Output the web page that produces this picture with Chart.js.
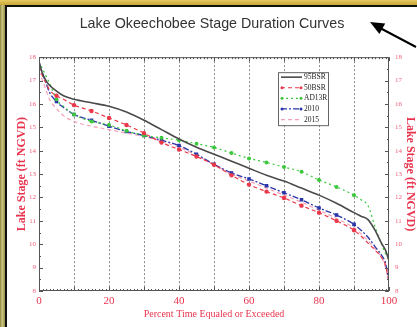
<!DOCTYPE html>
<html>
<head>
<meta charset="utf-8">
<script src="https://cdn.jsdelivr.net/npm/chart.js@4.4.1/dist/chart.umd.min.js"></script>
<style>
    html, body { margin: 0; padding: 0; width: 417px; height: 327px; overflow: hidden; background: #fff; }
    #frame-left { position: absolute; left: 0; top: 0; width: 5px; height: 327px; background: linear-gradient(90deg, #8a873a, #cfc784 45%, #938d42); }
    #frame-top { position: absolute; left: 0; top: 0; width: 417px; height: 5px; background: linear-gradient(180deg, #e6ca62, #c8a636); }
    #edge-left { position: absolute; left: 5px; top: 5px; width: 2px; height: 322px; background: #111; }
    #edge-top { position: absolute; left: 5px; top: 5px; width: 412px; height: 2px; background: #111; }
    #wrap { position: absolute; left: 7px; top: 7px; width: 410px; height: 320px; }
    #arrow { position: absolute; left: 0; top: 0; pointer-events: none; }
</style>
</head>
<body>
<div id="frame-left"></div>
<div id="frame-top"></div>
<div id="edge-left"></div>
<div id="edge-top"></div>
<div id="wrap"><canvas id="stageChart" width="410" height="320"></canvas></div>
<svg id="arrow" width="417" height="327">
    <line x1="416" y1="47" x2="381" y2="28.5" stroke="#000" stroke-width="2"/>
    <polygon points="370,22 385.2,23.4 379.4,34" fill="#000"/>
</svg>
<script>
// percent time equaled or exceeded
const percentTime = [0, 1, 2, 3, 5, 7, 10, 15, 20, 25, 30, 35, 40, 45, 50, 55, 60, 65, 70, 75, 80, 85, 90, 92, 94, 96, 98, 99, 100];

// lake stage (ft NGVD)
const bsr95 = [17.8, 17.3, 17.0, 16.8, 16.55, 16.35, 16.2, 16.05, 15.9, 15.65, 15.3, 14.9, 14.5, 14.15, 13.85, 13.55, 13.25, 12.95, 12.7, 12.4, 12.1, 11.75, 11.35, 11.2, 11.05, 10.6, 10.0, 9.75, 9.3];
const bsr50 = [17.6, 17.2, 16.9, 16.6, 16.35, 16.2, 15.95, 15.7, 15.4, 15.1, 14.75, 14.35, 14.05, 13.75, 13.4, 12.95, 12.55, 12.25, 11.98, 11.65, 11.35, 11.0, 10.6, 10.35, 10.05, 9.75, 9.4, 9.1, 8.4];
const ad13r = [17.8, 17.5, 17.2, 16.9, 16.2, 15.9, 15.55, 15.25, 15.1, 14.85, 14.65, 14.55, 14.45, 14.3, 14.14, 13.9, 13.67, 13.5, 13.3, 13.1, 12.75, 12.45, 12.1, 11.9, 11.65, 10.75, 9.95, 9.6, 9.3];
const run2010 = [17.8, 17.3, 16.9, 16.5, 16.1, 15.85, 15.55, 15.3, 15.05, 14.82, 14.65, 14.45, 14.22, 13.85, 13.42, 13.05, 12.79, 12.5, 12.2, 11.9, 11.55, 11.25, 10.85, 10.6, 10.3, 9.9, 9.5, 9.2, 8.4];
const run2015 = [17.4, 17.0, 16.6, 16.2, 15.8, 15.5, 15.25, 15.05, 14.9, 14.75, 14.6, 14.4, 14.15, 13.8, 13.4, 13.0, 12.7, 12.4, 12.1, 11.8, 11.45, 11.1, 10.7, 10.45, 10.15, 9.8, 9.4, 9.0, 8.4];

const xTicks = [0, 20, 40, 60, 80, 100];
const stageMin = 8, stageMax = 18;

const toPoints = (ys) => percentTime.map((p, i) => ({x: p, y: ys[i]}));
const markerEvery5 = (r) => (ctx) => {
    const x = ctx.raw ? ctx.raw.x : 0;
    return (x % 5 === 0 && x > 0 && x < 100) ? r : 0;
};

const serif = "'Liberation Serif', 'DejaVu Serif', serif";
const redText = '#e8344e';

// frame, minor ticks and in-plot legend box
const plotFrame = {
    id: 'plotFrame',
    afterDatasetsDraw(chart) {
        const {ctx, chartArea: a, scales} = chart;
        ctx.save();
        ctx.strokeStyle = '#555';
        ctx.lineWidth = 1;
        ctx.strokeRect(a.left + 0.5, a.top + 0.5, a.right - a.left - 1, a.bottom - a.top - 1);

        ctx.beginPath();
        for (let i = 0; i <= 100; i++) {
            const px = Math.round(scales.x.getPixelForValue(i)) + 0.5;
            const len = i % 10 === 0 ? 4 : 2;
            ctx.moveTo(px, a.bottom); ctx.lineTo(px, a.bottom - len);
            ctx.moveTo(px, a.top); ctx.lineTo(px, a.top + len);
        }
        for (let v = stageMin; v <= stageMax; v += 0.5) {
            const py = Math.round(scales.y.getPixelForValue(v)) + 0.5;
            const len = Number.isInteger(v) ? 4 : 2;
            ctx.moveTo(a.left, py); ctx.lineTo(a.left + len, py);
            ctx.moveTo(a.right, py); ctx.lineTo(a.right - len, py);
        }
        ctx.stroke();

        // legend
        const bx = a.left + 239, by = a.top + 15, bw = 50, bh = 53;
        ctx.fillStyle = '#fff';
        ctx.fillRect(bx, by, bw, bh);
        ctx.strokeStyle = '#666';
        ctx.strokeRect(bx + 0.5, by + 0.5, bw, bh);
        ctx.font = "7.5px " + serif;
        ctx.textBaseline = 'middle';
        chart.data.datasets.forEach((ds, i) => {
            const ly = by + 5 + i * 10.6;
            ctx.strokeStyle = ds.borderColor;
            ctx.lineWidth = ds.borderWidth;
            ctx.setLineDash(ds.borderDash || []);
            ctx.beginPath();
            ctx.moveTo(bx + 3, ly); ctx.lineTo(bx + 24, ly);
            ctx.stroke();
            ctx.setLineDash([]);
            if (ds.legendMarker) {
                ctx.fillStyle = ds.borderColor;
                [bx + 4, bx + 23].forEach(mx => {
                    ctx.beginPath();
                    ctx.arc(mx, ly, 1.5, 0, Math.PI * 2);
                    ctx.fill();
                });
            }
            ctx.fillStyle = '#222';
            ctx.fillText(ds.label, bx + 26, ly);
        });
        ctx.restore();
    }
};

window.addEventListener("DOMContentLoaded", () => {
    const ctx = document.getElementById("stageChart").getContext("2d");
    new Chart(ctx, {
        type: 'line',
        data: {
            datasets: [
                {
                    label: '95BSR', data: toPoints(bsr95),
                    borderColor: '#4a4a4a', borderWidth: 1.6,
                    pointRadius: 0
                },
                {
                    label: '50BSR', data: toPoints(bsr50),
                    borderColor: '#e8384a', backgroundColor: '#e8384a', borderWidth: 1.2,
                    borderDash: [4, 3], pointRadius: markerEvery5(1.6), pointStyle: 'circle',
                    legendMarker: true
                },
                {
                    label: 'AD13R', data: toPoints(ad13r),
                    borderColor: '#3cc83c', backgroundColor: '#3cc83c', borderWidth: 1.2,
                    borderDash: [2, 3], pointRadius: markerEvery5(1.4), pointStyle: 'circle',
                    legendMarker: true
                },
                {
                    label: '2010', data: toPoints(run2010),
                    borderColor: '#2a36a8', backgroundColor: '#2a36a8', borderWidth: 1.3,
                    borderDash: [6, 2, 2, 2], pointRadius: markerEvery5(1.6), pointStyle: 'rect',
                    legendMarker: true
                },
                {
                    label: '2015', data: toPoints(run2015),
                    borderColor: '#f4a0b6', borderWidth: 1.2,
                    borderDash: [4, 3], pointRadius: 0
                }
            ]
        },
        options: {
            responsive: false,
            animation: false,
            cubicInterpolationMode: 'monotone',
            layout: {padding: 0},
            scales: {
                x: {
                    type: 'linear', min: 0, max: 100,
                    afterFit: (s) => { s.height = 36; },
                    ticks: {
                        stepSize: 10, padding: 4, autoSkip: false, maxRotation: 0,
                        color: redText, font: {family: serif, size: 11},
                        callback: (v) => xTicks.includes(v) ? v : ''
                    },
                    grid: {
                        drawTicks: false,
                        color: (c) => (c.tick && (c.tick.value === 0 || c.tick.value === 100)) ? 'rgba(0,0,0,0)' : '#8a8a8a'
                    },
                    border: {display: false, dash: [2, 2]},
                    title: {
                        display: true, text: 'Percent Time Equaled or Exceeded',
                        color: redText, font: {family: serif, size: 10},
                        padding: {top: 7, bottom: 7}
                    }
                },
                y: {
                    type: 'linear', position: 'left', min: stageMin, max: stageMax,
                    afterFit: (s) => { s.width = 32; },
                    ticks: {stepSize: 1, padding: 3, color: '#f0607a', font: {family: serif, size: 7}},
                    grid: {display: false, drawTicks: false},
                    border: {display: false},
                    title: {
                        display: true, text: 'Lake Stage (ft NGVD)',
                        color: redText, font: {family: serif, size: 12, weight: 'bold'},
                        padding: {top: 8, bottom: 8}
                    }
                },
                y2: {
                    type: 'linear', position: 'right', min: stageMin, max: stageMax,
                    afterFit: (s) => { s.width = 28; },
                    ticks: {stepSize: 1, padding: 6, color: '#f0607a', font: {family: serif, size: 7}},
                    grid: {display: false, drawTicks: false},
                    border: {display: false},
                    title: {
                        display: true, text: 'Lake Stage (ft NGVD)',
                        color: redText, font: {family: serif, size: 12, weight: 'bold'},
                        padding: {top: 0, bottom: 0}
                    }
                }
            },
            plugins: {
                legend: {display: false},
                tooltip: {enabled: false},
                title: {
                    display: true, text: 'Lake Okeechobee Stage Duration Curves',
                    color: '#333',
                    font: {family: "'Liberation Sans', Arial, sans-serif", size: 14.3, weight: 'normal'},
                    padding: {top: 8, bottom: 25}
                }
            }
        },
        plugins: [plotFrame]
    });
});
</script>
</body>
</html>
